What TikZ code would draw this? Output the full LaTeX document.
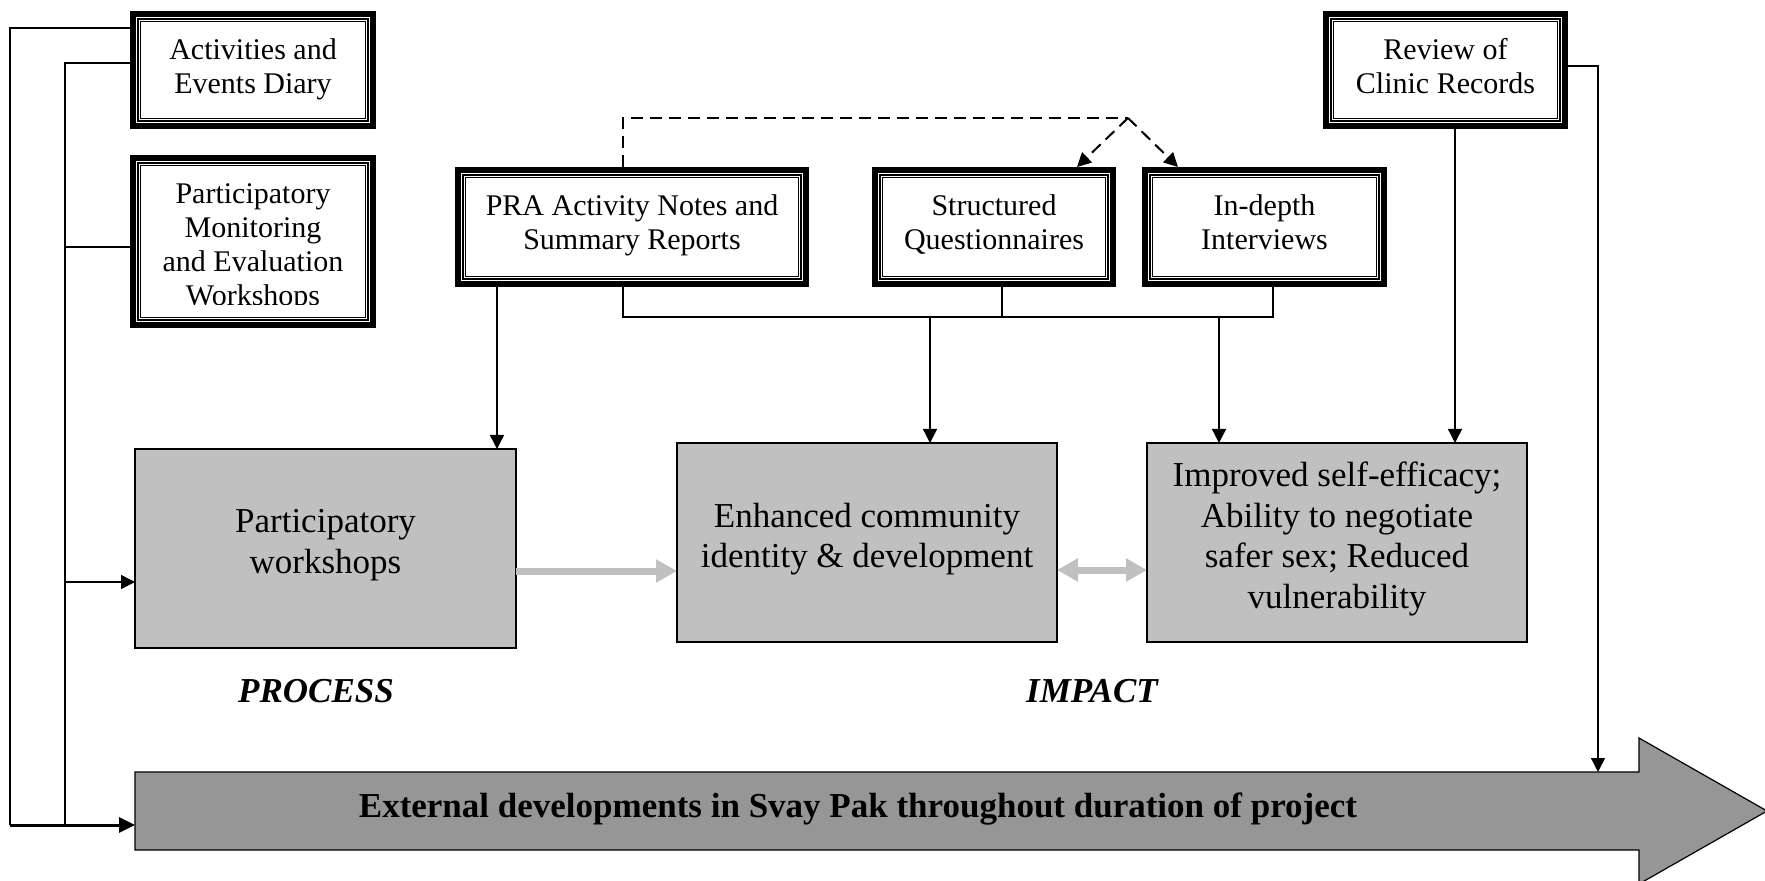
\documentclass[tikz,border=0pt]{standalone}
\usepackage{fontspec}
\setmainfont{Liberation Serif}
\usetikzlibrary{arrows.meta,calc}
\definecolor{boxgray}{HTML}{C0C0C0}
\definecolor{arrowgray}{HTML}{969696}
\begin{document}
\begin{tikzpicture}[x=0.5pt,y=-0.5pt,
  docbox/.style={inner sep=0pt, outer sep=0pt},
  boxtext/.style={align=center, inner sep=0pt, font=\fontsize{15pt}{17pt}\selectfont,
    execute at begin node=\strut, execute at end node=\strut},
  graybox/.style={draw=black, line width=0.6pt, fill=boxgray, inner sep=0pt, outer sep=0pt},
  graytext/.style={align=center, inner sep=0pt, font=\fontsize{17.5pt}{20.2pt}\selectfont},
  conn/.style={line width=0.7pt},
  arr/.style={conn, -{Triangle[length=7pt,width=7pt]}},
  dashconn/.style={line width=1pt, dash pattern=on 6pt off 3.5pt},
  dasharr/.style={dashconn, -{Triangle[length=7pt,width=7pt]}},
  grayarr/.style={line width=3.5pt, draw=boxgray, -{Triangle[length=10.5pt,width=11pt]}},
  graydbl/.style={line width=3.5pt, draw=boxgray, {Triangle[length=10.5pt,width=11pt]}-{Triangle[length=10.5pt,width=11pt]}},
  ]
\useasboundingbox (0,0) rectangle (1765,881);

% ---- document boxes (triple border) ----
\node[docbox, minimum width=123pt, minimum height=59pt] (act) at (253,70) {};
\node[docbox, minimum width=123pt, minimum height=86.5pt] (pm) at (253,241.5) {};
\node[docbox, minimum width=177pt, minimum height=60pt] (pra) at (632,227) {};
\node[docbox, minimum width=122pt, minimum height=60pt] (sq) at (994,227) {};
\node[docbox, minimum width=122.5pt, minimum height=60pt] (idi) at (1264.5,227) {};
\node[docbox, minimum width=122.5pt, minimum height=59pt] (rev) at (1445.5,70) {};
\foreach \n in {act,pm,pra,sq,idi,rev}{
  \draw[line width=3pt] ($(\n.north west)+(3,3)$) rectangle ($(\n.south east)+(-3,-3)$);
  \draw[line width=0.6pt] ($(\n.north west)+(8,8)$) rectangle ($(\n.south east)+(-8,-8)$);
  \draw[line width=0.6pt] ($(\n.north west)+(10.5,10.5)$) rectangle ($(\n.south east)+(-10.5,-10.5)$);
}
\node[boxtext] (actt) at ($(act.center)+(0,1.2)$) {Activities and\\Events Diary};
\begin{scope}
  \clip ($(pm.north west)$) rectangle ($(pm.south east)+(0,-23)$);
  \node[boxtext, anchor=north] (pmt) at ($(pm.north)+(0,28)$) {Participatory\\Monitoring\\and Evaluation\\Workshops};
\end{scope}
\node[boxtext] (prat) at ($(pra.center)+(0,0.2)$) {PRA Activity Notes and\\Summary Reports};
\node[boxtext] (sqt) at ($(sq.center)+(0,0.2)$) {Structured\\Questionnaires};
\node[boxtext] (idit) at ($(idi.center)+(0,0.2)$) {In-depth\\Interviews};
\node[boxtext] (revt) at ($(rev.center)+(0,1.2)$) {Review of\\Clinic Records};

% ---- grey outcome boxes ----
\node[graybox, minimum width=190.5pt, minimum height=99.5pt] (pw) at (325.5,548.5) {};
\node[graybox, minimum width=190pt, minimum height=99.5pt] (ecd) at (867,542.5) {};
\node[graybox, minimum width=190pt, minimum height=99.5pt] (imp) at (1337,542.5) {};
\node[graytext] (pwt) at ($(pw.center)+(0,-3.5)$) {Participatory\\workshops};
\node[graytext] (ecdt) at ($(ecd.center)+(0,-3.5)$) {Enhanced community\\identity \& development};
\node[graytext] (impt) at ($(imp.center)+(0,-3.5)$) {Improved self-efficacy;\\Ability to negotiate\\safer sex; Reduced\\vulnerability};

% ---- big arrow ----
\draw[fill=arrowgray, line width=0.6pt] (135,772) -- (1639,772) -- (1639,738) -- (1767,811) -- (1639,884) -- (1639,850) -- (135,850) -- cycle;
\node[docbox, minimum width=752pt, minimum height=39pt] (ext) at (887,811) {};
\node[font=\bfseries\fontsize{17.5pt}{20pt}\selectfont, inner sep=0pt] (extt) at (858,809) {External developments in Svay Pak throughout duration of project};

\node[font=\bfseries\itshape\fontsize{17.5pt}{20pt}\selectfont, inner sep=0pt] (proc) at (316,691) {PROCESS};
\node[font=\bfseries\itshape\fontsize{17.5pt}{20pt}\selectfont, inner sep=0pt] (impa) at (1092,691) {IMPACT};

% ---- left connectors ----
\coordinate (cA) at (10,825);
\coordinate (cB) at (65,825);
\draw[conn] ($(act.north west)+(0,17)$) -| (cA);
\draw[line width=1.5pt, -{Triangle[length=8pt,width=7.5pt]}] (cA) -- (cA -| ext.west);
\draw[conn] ($(act.north west)+(0,52)$) -| (cB);
\coordinate (jPM) at (65,247);
\draw[conn] (jPM) -- (jPM -| pm.west);
\coordinate (jPW) at (65,582);
\draw[arr] (jPW) -- (jPW -| pw.west);

% ---- middle connectors ----
\coordinate (p1) at ($(pra.south west)+(42,0)$);
\draw[arr] (p1) -- (p1 |- pw.north);
\coordinate (bA) at ($(pra.south west)+(168,0)$);
\coordinate (bS) at ($(sq.south)+(8,0)$);
\coordinate (bI) at ($(idi.south west)+(131,0)$);
\coordinate (bus) at (0,317);
\draw[conn] (bA) -- (bA |- bus) -- (bI |- bus) -- (bI);
\draw[conn] (bS) -- (bS |- bus);
\coordinate (d1) at (930,317);
\draw[arr] (d1) -- (d1 |- ecd.north);
\coordinate (d2) at (1219,317);
\draw[arr] (d2) -- (d2 |- imp.north);

% ---- review connectors ----
\coordinate (r1) at ($(rev.south)+(9.5,0)$);
\draw[arr] (r1) -- (r1 |- imp.north);
\coordinate (r2) at ($(rev.north east)+(0,55)$);
\coordinate (rx) at (1598,0);
\draw[arr] (r2) -- (r2 -| rx) -- (rx |- ext.north);

% ---- dashed links ----
\coordinate (dA) at ($(pra.north west)+(168,0)$);
\coordinate (peak) at (1128,118);
\draw[dashconn] (dA) |- (peak);
\draw[dasharr] (peak) -- ($(sq.north west)+(205,0)$);
\draw[dasharr] (peak) -- ($(idi.north west)+(36,0)$);

% ---- grey arrows ----
\coordinate (g1) at ($(pw.east)+(0,22.5)$);
\draw[grayarr] (g1) -- (g1 -| ecd.west);
\coordinate (g2) at ($(ecd.east)+(0,27.5)$);
\draw[graydbl] (g2) -- (g2 -| imp.west);
\end{tikzpicture}
\end{document}
